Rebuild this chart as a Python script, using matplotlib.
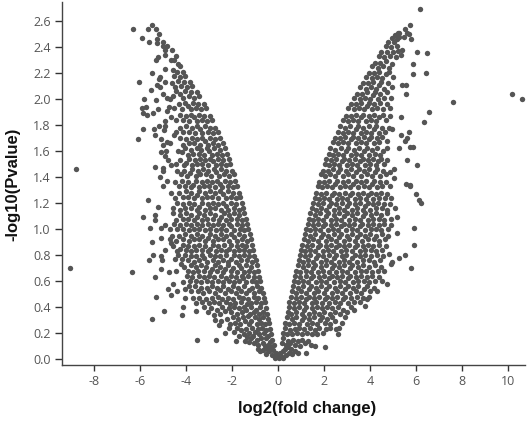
import matplotlib
matplotlib.use('Agg')
import matplotlib.pyplot as plt

plt.rcParams['axes.unicode_minus'] = False

# sparse points
outlier_x = [-6.30,-5.67,-5.49,-5.32,-5.19,-5.9,-5.62,-5.25,-5.27,-5.01,-4.98,-4.84,-4.9,-4.62,-4.91,-5.2,-5.3,-4.64,-4.5,-4.42,
    -5.49,-4.91,-4.54,-6.04,-5.13,-5.16,-4.91,-5.25,-5.13,-5.5,-4.98,-5.84,-5.32,-4.84,-4.7,-4.75,-4.84,-5.23,-5.93,-5.72,-5.88,-5.71,-5.45,-4.65,-4.91,
    -5.16,-4.91,-5.38,-5.88,-4.96,-5.35,-6.07,-5.09,-4.98,-4.83,-4.68,-4.51,-5.09,-4.87,-4.91,-4.77,-4.67,-5.35,-4.98,-5.0,-5.13,-8.8,-5.0,-4.83,
    -9.03,-6.35,-5.67,-5.22,-5.88,-5.35,-5.35,-5.57,-5.1,-4.91,-5.1,-5.49,-5.45,-5.62,-5.08,-5.36,-4.73,-4.44,-4.78,-4.58,-4.14,-4.03,-4.4,-4.64,-5.3,-4.04,
    -4.94,-4.12,-4.16,-3.58,-5.48,-3.51,-2.7,-2.3,-1.83,-1.43,-5.05,-5.09,-4.93,-4.7,-4.67,
    6.17,5.74,5.54,5.6,5.68,5.46,5.8,5.41,6.06,6.49,5.36,5.88,5.85,6.42,5.39,5.56,5.58,7.62,10.19,10.61,6.56,5.35,6.35,5.7,4.97,5.35,5.59,5.54,5.74,5.87,
    5.25,5.61,6.03,5.06,5.04,5.58,5.75,5.74,6.0,6.13,6.23,5.07,5.19,5.91,5.16,5.9,4.84,5.54,5.28,4.98,4.9,5.8,4.75,3.8,3.88,2.93,2.77,2.52,2.67,2.62,2.03,1.22,1.6]
outlier_y = [2.54,2.54,2.57,2.54,2.5,2.47,2.44,2.46,2.43,2.44,2.41,2.41,2.38,2.38,2.34,2.32,2.3,2.3,2.3,2.33,
    2.2,2.23,2.22,2.13,2.17,2.15,2.13,2.11,2.09,2.07,2.04,2.0,1.99,2.01,2.0,1.94,1.91,1.92,1.93,1.94,1.89,1.88,1.89,1.86,1.83,
    1.79,1.79,1.77,1.77,1.76,1.72,1.69,1.69,1.65,1.67,1.66,1.72,1.59,1.6,1.56,1.53,1.49,1.48,1.47,1.45,1.4,1.46,1.33,1.37,
    .70,.67,1.22,1.17,1.09,1.11,1.07,1.01,1.01,1.03,.93,.90,.80,.76,.69,.63,.67,.68,.54,.58,.59,.54,.52,.49,.48,.47,
    .37,.40,.34,.37,.31,.15,.15,.2,.14,.14,.76,.79,.84,.92,.89,
    2.69,2.57,2.54,2.51,2.5,2.48,2.46,2.38,2.36,2.35,2.34,2.27,2.19,2.2,2.11,2.11,2.04,1.98,2.04,2.0,1.9,1.86,1.82,1.75,1.77,1.72,1.70,1.68,1.63,1.63,
    1.62,1.53,1.49,1.46,1.39,1.35,1.34,1.33,1.27,1.22,1.2,1.16,1.09,1.01,.97,.88,.81,.80,.78,.75,.73,.70,.58,.41,.46,.32,.28,.23,.24,.19,.09,.05,.1]

# dense part of the cloud, estimated band by band (x, y)
left_cloud = [
    (-.03,.02),(-.14,.01),(-.09,.05),(-.25,.03),(-.2,.07),(-.38,.06),(-.31,.09),(-.5,.04),(-.46,.08),(-.63,.07),(-.58,.1),(-.78,.06),(-.87,.08),
    (-.17,.11),(-.24,.15),(-.36,.13),(-.44,.11),(-.52,.16),(-.66,.12),(-.72,.16),(-.85,.11),(-.93,.15),(-1.04,.12),(-1.15,.16),(-1.27,.13),(-1.36,.17),
    (-.29,.19),(-.35,.23),(-.43,.18),(-.5,.22),(-.62,.2),(-.7,.24),(-.81,.19),(-.87,.23),(-.99,.21),(-1.08,.18),(-1.13,.24),(-1.26,.2),(-1.38,.23),(-1.47,.19),(-1.59,.22),(-1.7,.18),(-1.76,.24),(-1.92,.21),(-2.12,.24),
    (-.38,.28),(-.43,.31),(-.55,.27),(-.63,.32),(-.72,.28),(-.84,.31),(-.93,.27),(-1.0,.32),(-1.15,.29),(-1.24,.27),(-1.3,.33),(-1.45,.29),(-1.52,.32),(-1.66,.27),(-1.74,.31),(-1.87,.28),(-1.97,.32),(-2.1,.27),(-2.22,.31),(-2.46,.29),(-2.58,.26),(-2.72,.3),
    (-.47,.35),(-.53,.39),(-.64,.36),(-.76,.4),(-.82,.35),(-.94,.38),(-1.06,.36),(-1.17,.4),(-1.22,.35),(-1.37,.38),(-1.48,.4),(-1.56,.36),(-1.69,.39),(-1.78,.35),(-1.91,.4),(-2.04,.36),(-2.13,.39),(-2.3,.37),(-2.41,.4),(-2.5,.35),(-2.66,.38),(-2.8,.34),(-2.92,.39),(-3.04,.36),(-3.2,.4),
    (-.57,.44),(-.61,.47),(-.73,.43),(-.86,.47),(-.95,.44),(-1.03,.48),(-1.18,.43),(-1.29,.46),(-1.35,.42),(-1.5,.47),(-1.62,.44),(-1.7,.48),(-1.85,.43),(-1.96,.46),(-2.07,.42),(-2.18,.47),(-2.26,.44),(-2.43,.46),(-2.55,.43),(-2.62,.48),(-2.78,.44),(-2.88,.47),(-3.0,.43),(-3.14,.46),(-3.3,.44),(-3.42,.47),(-3.55,.43),(-3.7,.47),
    (-.67,.51),(-.72,.55),(-.84,.52),(-.92,.56),(-1.05,.51),(-1.13,.55),(-1.27,.53),(-1.4,.51),(-1.46,.56),(-1.6,.52),(-1.73,.55),(-1.81,.51),(-1.94,.56),(-2.03,.52),(-2.16,.54),(-2.31,.51),(-2.37,.56),(-2.52,.53),(-2.67,.55),(-2.73,.51),(-2.87,.56),(-2.98,.52),(-3.1,.55),(-3.24,.51),(-3.35,.55),(-3.48,.52),(-3.62,.56),(-3.77,.52),(-3.88,.56),
    (-.77,.6),(-.82,.63),(-.95,.59),(-1.06,.63),(-1.14,.6),(-1.28,.64),(-1.37,.59),(-1.5,.62),(-1.58,.64),(-1.69,.6),(-1.84,.63),(-1.93,.59),(-2.06,.64),(-2.14,.6),(-2.27,.62),(-2.4,.59),(-2.48,.64),(-2.61,.6),(-2.76,.63),(-2.85,.59),(-2.99,.64),(-3.09,.6),(-3.21,.63),(-3.33,.59),(-3.45,.64),(-3.58,.6),(-3.72,.63),(-3.83,.6),(-3.96,.64),
    (-.87,.68),(-.92,.72),(-1.02,.67),(-1.16,.71),(-1.25,.68),(-1.38,.72),(-1.47,.67),(-1.62,.7),(-1.71,.72),(-1.79,.67),(-1.95,.7),(-2.05,.68),(-2.17,.72),(-2.29,.69),(-2.38,.67),(-2.53,.71),(-2.64,.68),(-2.72,.72),(-2.88,.69),(-2.96,.67),(-3.12,.71),(-3.2,.68),(-3.36,.72),(-3.46,.68),(-3.56,.71),(-3.69,.67),(-3.8,.72),(-3.93,.68),(-4.08,.71),(-4.2,.73),
    (-.97,.76),(-1.03,.79),(-1.14,.75),(-1.27,.79),(-1.36,.76),(-1.48,.8),(-1.6,.76),(-1.7,.79),(-1.82,.75),(-1.91,.8),(-2.05,.77),(-2.16,.75),(-2.24,.8),(-2.4,.76),(-2.5,.79),(-2.6,.75),(-2.75,.79),(-2.84,.76),(-2.97,.8),(-3.08,.75),(-3.21,.78),(-3.3,.8),(-3.44,.76),(-3.56,.79),(-3.65,.75),(-3.79,.79),(-3.9,.76),(-4.04,.8),(-4.17,.77),(-4.33,.8),(-4.48,.77),
    (-1.07,.84),(-1.12,.88),(-1.24,.83),(-1.37,.87),(-1.46,.84),(-1.58,.88),(-1.7,.84),(-1.78,.87),(-1.92,.83),(-2.04,.88),(-2.13,.85),(-2.26,.83),(-2.36,.88),(-2.48,.84),(-2.62,.87),(-2.7,.83),(-2.83,.88),(-2.96,.85),(-3.05,.83),(-3.19,.87),(-3.32,.84),(-3.41,.88),(-3.55,.84),(-3.64,.87),(-3.77,.83),(-3.91,.87),(-4.0,.84),(-4.14,.88),(-4.26,.85),(-4.4,.83),(-4.56,.87),
    (-1.17,.92),(-1.23,.96),(-1.35,.91),(-1.47,.95),(-1.56,.92),(-1.7,.96),(-1.79,.91),(-1.92,.94),(-2.03,.96),(-2.12,.91),(-2.26,.95),(-2.38,.92),(-2.46,.96),(-2.61,.92),(-2.73,.95),(-2.81,.91),(-2.95,.96),(-3.06,.93),(-3.17,.91),(-3.3,.95),(-3.42,.92),(-3.52,.96),(-3.66,.92),(-3.77,.95),(-3.88,.91),(-4.02,.96),(-4.13,.92),(-4.28,.95),(-4.42,.91),(-4.6,.95),
    (-1.28,1.0),(-1.34,1.04),(-1.46,.99),(-1.57,1.03),(-1.67,1.0),(-1.8,1.04),(-1.9,.99),(-2.04,1.02),(-2.13,1.04),(-2.25,.99),(-2.38,1.03),(-2.47,1.0),(-2.6,1.04),(-2.7,.99),(-2.84,1.03),(-2.96,1.0),(-3.05,1.04),(-3.18,.99),(-3.3,1.03),(-3.42,1.0),(-3.51,1.04),(-3.65,1.0),(-3.76,1.03),(-3.88,.99),(-4.0,1.04),(-4.12,1.0),(-4.25,1.03),(-4.4,1.0),(-4.52,1.04),(-4.68,1.0),
    (-1.4,1.08),(-1.46,1.12),(-1.57,1.07),(-1.69,1.11),(-1.78,1.08),(-1.91,1.12),(-2.02,1.08),(-2.13,1.11),(-2.25,1.07),(-2.36,1.12),(-2.49,1.09),(-2.58,1.07),(-2.72,1.11),(-2.84,1.08),(-2.94,1.12),(-3.07,1.08),(-3.2,1.11),(-3.28,1.07),(-3.43,1.12),(-3.54,1.09),(-3.64,1.07),(-3.78,1.11),(-3.9,1.08),(-4.0,1.12),(-4.14,1.08),(-4.27,1.11),(-4.42,1.07),(-4.58,1.12),
    (-1.52,1.16),(-1.58,1.2),(-1.7,1.15),(-1.82,1.19),(-1.9,1.16),(-2.04,1.2),(-2.15,1.15),(-2.26,1.18),(-2.37,1.2),(-2.47,1.15),(-2.6,1.19),(-2.72,1.16),(-2.82,1.2),(-2.95,1.16),(-3.06,1.19),(-3.17,1.15),(-3.31,1.2),(-3.42,1.17),(-3.53,1.15),(-3.65,1.19),(-3.78,1.16),(-3.88,1.2),(-4.02,1.16),(-4.12,1.19),(-4.25,1.15),(-4.4,1.2),(-4.55,1.16),
    (-1.65,1.25),(-1.71,1.28),(-1.83,1.24),(-1.94,1.28),(-2.04,1.25),(-2.16,1.29),(-2.27,1.24),(-2.38,1.27),(-2.5,1.29),(-2.6,1.24),(-2.72,1.28),(-2.85,1.25),(-2.94,1.29),(-3.07,1.25),(-3.19,1.28),(-3.29,1.24),(-3.42,1.29),(-3.54,1.26),(-3.65,1.24),(-3.78,1.28),(-3.9,1.25),(-4.0,1.29),(-4.14,1.25),(-4.28,1.28),(-4.46,1.24),(-4.63,1.28),
    (-1.78,1.33),(-1.85,1.37),(-1.97,1.32),(-2.08,1.36),(-2.18,1.33),(-2.3,1.37),(-2.41,1.32),(-2.52,1.35),(-2.63,1.37),(-2.74,1.32),(-2.86,1.36),(-2.98,1.33),(-3.08,1.37),(-3.21,1.33),(-3.32,1.36),(-3.42,1.32),(-3.55,1.37),(-3.68,1.34),(-3.78,1.32),(-3.91,1.36),(-4.04,1.33),(-4.16,1.37),(-4.3,1.33),(-4.48,1.36),
    (-1.93,1.42),(-2.0,1.45),(-2.12,1.41),(-2.24,1.45),(-2.33,1.42),(-2.46,1.46),(-2.56,1.41),(-2.68,1.44),(-2.8,1.46),(-2.9,1.41),(-3.02,1.45),(-3.14,1.42),(-3.24,1.46),(-3.37,1.42),(-3.48,1.45),(-3.58,1.41),(-3.72,1.46),(-3.84,1.43),(-3.94,1.41),(-4.08,1.45),(-4.22,1.42),(-4.4,1.45),
    (-2.08,1.5),(-2.14,1.54),(-2.27,1.49),(-2.38,1.53),(-2.48,1.5),(-2.6,1.54),(-2.71,1.49),(-2.82,1.52),(-2.94,1.54),(-3.04,1.49),(-3.17,1.53),(-3.28,1.5),(-3.38,1.54),(-3.52,1.5),(-3.62,1.53),(-3.73,1.49),(-3.86,1.54),(-3.98,1.51),(-4.1,1.49),(-4.24,1.53),(-4.45,1.5),
    (-2.23,1.58),(-2.3,1.62),(-2.43,1.57),(-2.54,1.61),(-2.64,1.58),(-2.76,1.62),(-2.87,1.57),(-2.98,1.6),(-3.1,1.62),(-3.2,1.57),(-3.33,1.61),(-3.44,1.58),(-3.54,1.62),(-3.68,1.58),(-3.78,1.61),(-3.9,1.57),(-4.03,1.62),(-4.16,1.59),(-4.33,1.6),
    (-2.4,1.66),(-2.5,1.7),(-2.62,1.65),(-2.73,1.69),(-2.83,1.66),(-2.96,1.7),(-3.06,1.65),(-3.18,1.68),(-3.3,1.7),(-3.4,1.65),(-3.53,1.69),(-3.64,1.66),(-3.74,1.7),(-3.88,1.66),(-3.99,1.69),(-4.12,1.65),(-4.27,1.7),
    (-2.62,1.75),(-2.72,1.78),(-2.84,1.74),(-2.96,1.78),(-3.06,1.75),(-3.18,1.79),(-3.28,1.74),(-3.4,1.77),(-3.52,1.79),(-3.62,1.74),(-3.75,1.78),(-3.87,1.75),(-3.98,1.79),(-4.12,1.75),(-4.25,1.78),(-4.43,1.75),
    (-2.87,1.84),(-2.96,1.87),(-3.08,1.83),(-3.2,1.87),(-3.3,1.84),(-3.42,1.88),(-3.53,1.83),(-3.65,1.86),(-3.77,1.88),(-3.88,1.83),(-4.0,1.87),(-4.13,1.84),(-4.27,1.88),(-4.45,1.84),
    (-3.12,1.93),(-3.22,1.96),(-3.35,1.92),(-3.46,1.96),(-3.56,1.93),(-3.69,1.97),(-3.8,1.92),(-3.92,1.95),(-4.04,1.97),(-4.17,1.92),(-4.32,1.96),(-4.5,1.93),
    (-3.42,2.02),(-3.54,2.05),(-3.66,2.01),(-3.78,2.05),(-3.88,2.02),(-4.02,2.06),(-4.13,2.01),(-4.26,2.04),(-4.42,2.06),(-4.55,2.02),
    (-3.74,2.1),(-3.84,2.13),(-3.97,2.09),(-4.09,2.13),(-4.2,2.1),(-4.34,2.14),(-4.47,2.09),(-4.62,2.12),
    (-4.03,2.18),(-4.14,2.21),(-4.26,2.17),(-4.38,2.21),(-4.52,2.18),(-4.27,2.25),(-4.36,2.27),
]
right_cloud = [
    (.04,.01),(.13,.02),(.08,.05),(.24,.01),(.2,.06),(.36,.03),(.3,.08),(.48,.05),(.44,.09),(.62,.04),(.57,.08),(.76,.06),(.89,.05),
    (.16,.12),(.22,.16),(.34,.11),(.43,.14),(.53,.12),(.64,.15),(.72,.11),(.86,.14),(.95,.1),(1.06,.15),(1.16,.12),(1.3,.14),(1.42,.11),
    (.24,.2),(.31,.24),(.41,.19),(.52,.22),(.61,.19),(.72,.23),(.84,.2),(.92,.24),(1.05,.19),(1.13,.23),(1.27,.2),(1.38,.24),(1.46,.19),(1.6,.22),(1.71,.19),(1.8,.24),(1.94,.2),(2.1,.23),(2.25,.24),
    (.32,.28),(.38,.32),(.5,.27),(.6,.31),(.71,.28),(.8,.32),(.93,.27),(1.04,.3),(1.12,.32),(1.26,.27),(1.36,.31),(1.48,.28),(1.58,.32),(1.7,.27),(1.82,.3),(1.9,.32),(2.04,.28),(2.15,.31),(2.28,.27),(2.37,.32),(2.5,.29),
    (.42,.36),(.47,.4),(.58,.35),(.7,.39),(.8,.36),(.9,.4),(1.03,.35),(1.14,.38),(1.23,.4),(1.35,.35),(1.47,.39),(1.55,.36),(1.68,.4),(1.8,.35),(1.9,.39),(2.02,.36),(2.13,.4),(2.25,.35),(2.35,.39),(2.48,.36),(2.6,.4),(2.7,.35),(2.84,.38),(3.02,.36),(3.18,.4),(3.32,.38),
    (.5,.44),(.56,.48),(.68,.43),(.78,.47),(.9,.44),(1.0,.48),(1.13,.43),(1.24,.46),(1.33,.48),(1.46,.43),(1.57,.47),(1.67,.44),(1.8,.48),(1.9,.43),(2.03,.46),(2.14,.48),(2.24,.43),(2.37,.47),(2.48,.44),(2.58,.48),(2.7,.43),(2.83,.46),(2.93,.48),(3.06,.43),(3.18,.47),(3.3,.44),(3.42,.48),(3.56,.44),(3.7,.47),(3.98,.48),
    (.6,.52),(.65,.56),(.77,.51),(.88,.55),(.99,.52),(1.09,.56),(1.22,.51),(1.33,.54),(1.42,.56),(1.55,.51),(1.66,.55),(1.76,.52),(1.89,.56),(2.0,.51),(2.11,.54),(2.23,.56),(2.33,.51),(2.46,.55),(2.57,.52),(2.68,.56),(2.8,.51),(2.92,.54),(3.03,.56),(3.14,.51),(3.27,.55),(3.38,.52),(3.5,.56),(3.63,.51),(3.74,.54),(3.87,.56),(4.02,.52),(4.17,.55),(4.32,.52),
    (.7,.6),(.76,.64),(.88,.59),(.98,.63),(1.1,.6),(1.2,.64),(1.32,.59),(1.44,.62),(1.53,.64),(1.66,.59),(1.77,.63),(1.87,.6),(2.0,.64),(2.1,.59),(2.23,.62),(2.34,.64),(2.44,.59),(2.57,.63),(2.68,.6),(2.78,.64),(2.91,.59),(3.03,.62),(3.13,.64),(3.25,.59),(3.38,.63),(3.5,.6),(3.6,.64),(3.74,.6),(3.85,.63),(3.97,.59),(4.1,.64),(4.24,.6),(4.38,.63),(4.52,.6),
    (.8,.68),(.86,.72),(.98,.67),(1.08,.71),(1.2,.68),(1.3,.72),(1.42,.67),(1.54,.7),(1.63,.72),(1.76,.67),(1.87,.71),(1.97,.68),(2.1,.72),(2.2,.67),(2.33,.7),(2.44,.72),(2.54,.67),(2.67,.71),(2.78,.68),(2.88,.72),(3.01,.67),(3.13,.7),(3.23,.72),(3.35,.67),(3.48,.71),(3.6,.68),(3.7,.72),(3.84,.68),(3.95,.71),(4.07,.67),(4.2,.72),(4.34,.68),(4.48,.71),(4.62,.68),
    (.9,.76),(.96,.8),(1.08,.75),(1.18,.79),(1.3,.76),(1.4,.8),(1.52,.75),(1.64,.78),(1.73,.8),(1.86,.75),(1.97,.79),(2.07,.76),(2.2,.8),(2.3,.75),(2.43,.78),(2.54,.8),(2.64,.75),(2.77,.79),(2.88,.76),(2.98,.8),(3.11,.75),(3.23,.78),(3.33,.8),(3.45,.75),(3.58,.79),(3.7,.76),(3.8,.8),(3.94,.76),(4.05,.79),(4.17,.75),(4.3,.8),(4.44,.76),(4.58,.79),
    (1.0,.84),(1.06,.88),(1.18,.83),(1.28,.87),(1.4,.84),(1.5,.88),(1.62,.83),(1.74,.86),(1.83,.88),(1.96,.83),(2.07,.87),(2.17,.84),(2.3,.88),(2.4,.83),(2.53,.86),(2.64,.88),(2.74,.83),(2.87,.87),(2.98,.84),(3.08,.88),(3.21,.83),(3.33,.86),(3.43,.88),(3.55,.83),(3.68,.87),(3.8,.84),(3.9,.88),(4.04,.84),(4.15,.87),(4.27,.83),(4.4,.88),(4.54,.84),(4.68,.87),
    (1.12,.92),(1.18,.96),(1.3,.91),(1.4,.95),(1.52,.92),(1.62,.96),(1.74,.91),(1.86,.94),(1.95,.96),(2.08,.91),(2.19,.95),(2.29,.92),(2.42,.96),(2.52,.91),(2.65,.94),(2.76,.96),(2.86,.91),(2.99,.95),(3.1,.92),(3.2,.96),(3.33,.91),(3.45,.94),(3.55,.96),(3.67,.91),(3.8,.95),(3.92,.92),(4.02,.96),(4.16,.92),(4.27,.95),(4.39,.91),(4.52,.96),(4.66,.92),(4.8,.95),
    (1.23,1.0),(1.29,1.04),(1.41,.99),(1.51,1.03),(1.63,1.0),(1.73,1.04),(1.85,.99),(1.97,1.02),(2.06,1.04),(2.19,.99),(2.3,1.03),(2.4,1.0),(2.53,1.04),(2.63,.99),(2.76,1.02),(2.87,1.04),(2.97,.99),(3.1,1.03),(3.21,1.0),(3.31,1.04),(3.44,.99),(3.56,1.02),(3.66,1.04),(3.78,.99),(3.91,1.03),(4.03,1.0),(4.13,1.04),(4.27,1.0),(4.38,1.03),(4.5,.99),(4.63,1.04),(4.78,1.0),(4.9,1.03),
    (1.35,1.08),(1.41,1.12),(1.53,1.07),(1.63,1.11),(1.75,1.08),(1.85,1.12),(1.97,1.07),(2.09,1.1),(2.18,1.12),(2.31,1.07),(2.42,1.11),(2.52,1.08),(2.65,1.12),(2.75,1.07),(2.88,1.1),(2.99,1.12),(3.09,1.07),(3.22,1.11),(3.33,1.08),(3.43,1.12),(3.56,1.07),(3.68,1.1),(3.78,1.12),(3.9,1.07),(4.03,1.11),(4.15,1.08),(4.25,1.12),(4.39,1.08),(4.5,1.11),(4.62,1.07),(4.75,1.12),(4.9,1.08),
    (1.47,1.16),(1.53,1.2),(1.65,1.15),(1.75,1.19),(1.87,1.16),(1.97,1.2),(2.09,1.15),(2.21,1.18),(2.3,1.2),(2.43,1.15),(2.54,1.19),(2.64,1.16),(2.77,1.2),(2.87,1.15),(3.0,1.18),(3.11,1.2),(3.21,1.15),(3.34,1.19),(3.45,1.16),(3.55,1.2),(3.68,1.15),(3.8,1.18),(3.9,1.2),(4.02,1.15),(4.15,1.19),(4.27,1.16),(4.37,1.2),(4.51,1.16),(4.62,1.19),(4.74,1.15),(4.88,1.19),
    (1.6,1.24),(1.66,1.28),(1.78,1.23),(1.88,1.27),(2.0,1.24),(2.1,1.28),(2.22,1.23),(2.34,1.26),(2.43,1.28),(2.56,1.23),(2.67,1.27),(2.77,1.24),(2.9,1.28),(3.0,1.23),(3.13,1.26),(3.24,1.28),(3.34,1.23),(3.47,1.27),(3.58,1.24),(3.68,1.28),(3.81,1.23),(3.93,1.26),(4.03,1.28),(4.15,1.23),(4.28,1.27),(4.4,1.24),(4.5,1.28),(4.64,1.24),(4.75,1.27),(4.92,1.24),
    (1.72,1.33),(1.8,1.36),(1.92,1.32),(2.02,1.36),(2.14,1.33),(2.24,1.37),(2.36,1.32),(2.48,1.35),(2.57,1.37),(2.7,1.32),(2.81,1.36),(2.91,1.33),(3.04,1.37),(3.14,1.32),(3.27,1.35),(3.38,1.37),(3.48,1.32),(3.61,1.36),(3.72,1.33),(3.82,1.37),(3.95,1.32),(4.07,1.35),(4.17,1.37),(4.29,1.32),(4.42,1.36),(4.54,1.33),(4.68,1.36),(4.86,1.33),
    (1.87,1.42),(1.94,1.45),(2.06,1.41),(2.16,1.45),(2.28,1.42),(2.38,1.46),(2.5,1.41),(2.62,1.44),(2.71,1.46),(2.84,1.41),(2.95,1.45),(3.05,1.42),(3.18,1.46),(3.28,1.41),(3.41,1.44),(3.52,1.46),(3.62,1.41),(3.75,1.45),(3.86,1.42),(3.96,1.46),(4.09,1.41),(4.21,1.44),(4.31,1.46),(4.43,1.41),(4.56,1.45),(4.7,1.42),(4.88,1.44),
    (2.03,1.5),(2.1,1.54),(2.22,1.49),(2.32,1.53),(2.44,1.5),(2.54,1.54),(2.66,1.49),(2.78,1.52),(2.87,1.54),(3.0,1.49),(3.11,1.53),(3.21,1.5),(3.34,1.54),(3.44,1.49),(3.57,1.52),(3.68,1.54),(3.78,1.49),(3.91,1.53),(4.02,1.5),(4.12,1.54),(4.25,1.49),(4.37,1.52),(4.47,1.54),(4.6,1.5),(4.76,1.53),
    (2.2,1.58),(2.28,1.62),(2.4,1.57),(2.5,1.61),(2.62,1.58),(2.72,1.62),(2.84,1.57),(2.96,1.6),(3.05,1.62),(3.18,1.57),(3.29,1.61),(3.39,1.58),(3.52,1.62),(3.62,1.57),(3.75,1.6),(3.86,1.62),(3.96,1.57),(4.09,1.61),(4.2,1.58),(4.3,1.62),(4.43,1.57),(4.56,1.6),(4.72,1.62),
    (2.38,1.67),(2.48,1.7),(2.6,1.66),(2.7,1.7),(2.82,1.67),(2.92,1.71),(3.04,1.66),(3.16,1.69),(3.25,1.71),(3.38,1.66),(3.49,1.7),(3.59,1.67),(3.72,1.71),(3.82,1.66),(3.95,1.69),(4.06,1.71),(4.16,1.66),(4.29,1.7),(4.4,1.67),(4.54,1.71),(4.72,1.68),
    (2.6,1.75),(2.7,1.79),(2.82,1.74),(2.92,1.78),(3.04,1.75),(3.14,1.79),(3.26,1.74),(3.38,1.77),(3.47,1.79),(3.6,1.74),(3.71,1.78),(3.81,1.75),(3.94,1.79),(4.04,1.74),(4.17,1.77),(4.28,1.79),(4.38,1.74),(4.52,1.78),(4.66,1.75),(4.84,1.78),
    (2.84,1.84),(2.94,1.87),(3.06,1.83),(3.16,1.87),(3.28,1.84),(3.38,1.88),(3.5,1.83),(3.62,1.86),(3.71,1.88),(3.84,1.83),(3.95,1.87),(4.05,1.84),(4.18,1.88),(4.28,1.83),(4.41,1.86),(4.55,1.88),(4.7,1.84),(4.88,1.87),
    (3.06,1.93),(3.18,1.96),(3.3,1.92),(3.4,1.96),(3.52,1.93),(3.62,1.97),(3.74,1.92),(3.86,1.95),(3.95,1.97),(4.08,1.92),(4.19,1.96),(4.29,1.93),(4.42,1.97),(4.56,1.92),(4.72,1.96),(4.88,1.93),
    (3.32,2.01),(3.44,2.04),(3.56,2.0),(3.66,2.04),(3.78,2.01),(3.88,2.05),(4.0,2.0),(4.12,2.03),(4.21,2.05),(4.34,2.0),(4.45,2.04),(4.6,2.01),(4.76,2.05),(4.9,2.01),
    (3.58,2.09),(3.7,2.12),(3.82,2.08),(3.92,2.12),(4.04,2.09),(4.14,2.13),(4.26,2.08),(4.38,2.11),(4.47,2.13),(4.62,2.08),(4.78,2.12),(4.95,2.09),
    (3.84,2.17),(3.96,2.2),(4.08,2.16),(4.18,2.2),(4.3,2.17),(4.4,2.21),(4.54,2.16),(4.68,2.19),(4.84,2.21),(5.0,2.17),
    (4.1,2.25),(4.22,2.28),(4.34,2.24),(4.44,2.28),(4.56,2.25),(4.68,2.29),(4.82,2.24),(4.98,2.27),
    (4.38,2.33),(4.5,2.36),(4.62,2.32),(4.74,2.36),(4.86,2.33),(5.0,2.36),(5.12,2.32),
    (4.68,2.41),(4.8,2.44),(4.92,2.4),(5.04,2.44),(5.16,2.41),(5.22,2.37),
    (4.96,2.47),(5.08,2.49),(5.18,2.46),(5.26,2.48),(5.2,2.51),(5.28,2.51),
]

x_ticks = [-8, -6, -4, -2, 0, 2, 4, 6, 8, 10]
y_ticks = [0.0, 0.2, 0.4, 0.6, 0.8, 1.0, 1.2, 1.4, 1.6, 1.8, 2.0, 2.2, 2.4, 2.6]

xs = list(outlier_x) + [p[0] for p in left_cloud + right_cloud]
ys = list(outlier_y) + [p[1] for p in left_cloud + right_cloud]

W, H = 532, 422
fig = plt.figure(figsize=(W / 100, H / 100), dpi=100)
ax = fig.add_axes([61.7 / W, 1 - 365.3 / H, (525 - 61.7) / W, (365.3 - 2) / H])
ax.scatter(xs, ys, s=15, color='#555555', linewidths=0, clip_on=False)

ax.set_xlim(-9.4, 10.74)
ax.set_ylim(-0.048, 2.746)
ax.set_xticks(x_ticks)
ax.set_yticks(y_ticks)
ax.set_yticklabels([f'{v:.1f}' for v in y_ticks])
ax.spines['top'].set_visible(False)
ax.spines['right'].set_visible(False)
for s in ['left', 'bottom']:
    ax.spines[s].set_color('#444444')
    ax.spines[s].set_linewidth(1.0)
ax.tick_params(axis='x', length=4, width=1, color='#333333', pad=3, labelsize=9, labelcolor='#555555')
ax.tick_params(axis='y', length=5, width=1, color='#333333', pad=3, labelsize=9, labelcolor='#555555')
for t in ax.get_xticklabels() + ax.get_yticklabels():
    t.set_family('Open Sans')

fig.text(307.5 / W, 1 - 408 / H, 'log2(fold change)', ha='center', va='center',
         fontsize=12, fontweight='bold', family='Liberation Sans', color='#111111')
fig.text(13 / W, 1 - 184 / H, '-log10(Pvalue)', ha='center', va='center', rotation=90,
         fontsize=12, fontweight='bold', family='Liberation Sans', color='#111111')

plt.savefig('out.png', dpi=100)
